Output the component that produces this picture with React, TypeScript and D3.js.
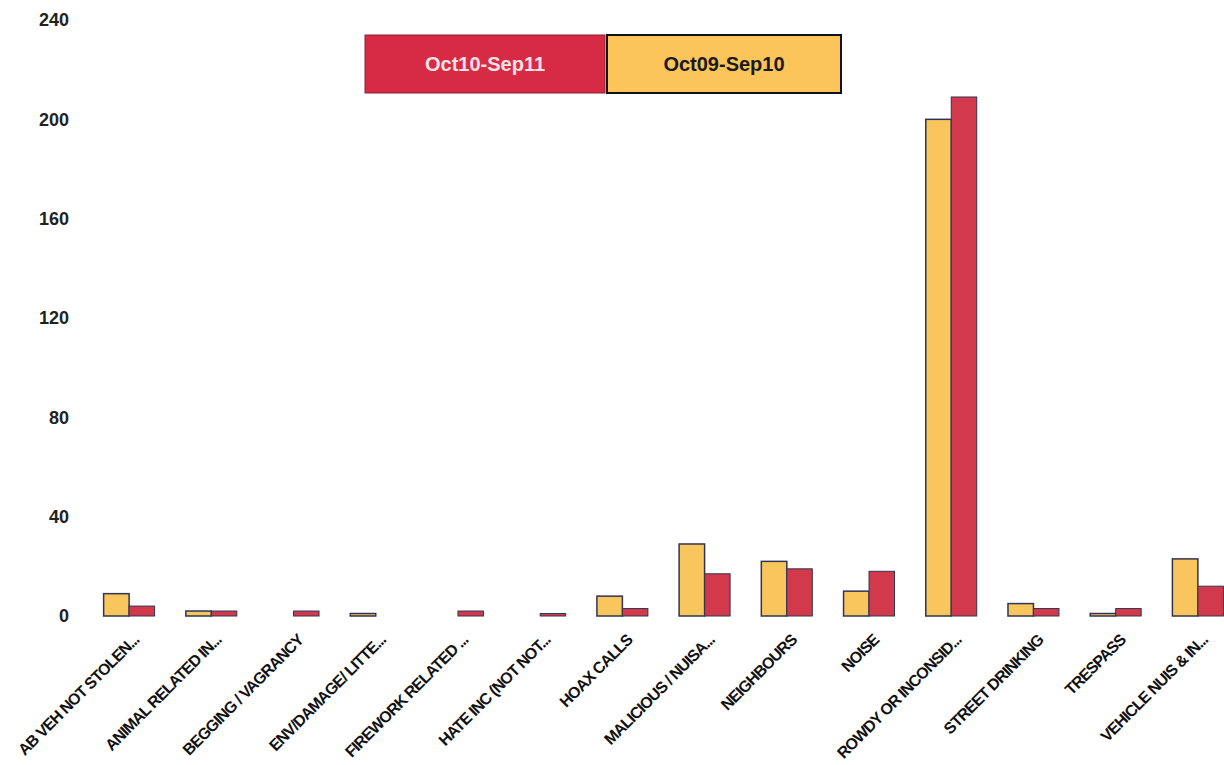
import React from "react";
import * as d3 from "d3";

const categories = [
  "AB VEH NOT STOLEN...",
  "ANIMAL RELATED IN...",
  "BEGGING / VAGRANCY",
  "ENV/DAMAGE/ LITTE...",
  "FIREWORK RELATED ...",
  "HATE INC (NOT NOT...",
  "HOAX CALLS",
  "MALICIOUS / NUISA...",
  "NEIGHBOURS",
  "NOISE",
  "ROWDY OR INCONSID...",
  "STREET DRINKING",
  "TRESPASS",
  "VEHICLE NUIS & IN...",
];
const series09 = [9, 2, 0, 1, 0, 0, 8, 29, 22, 10, 200, 5, 1, 23];
const series10 = [4, 2, 2, 0, 2, 1, 3, 17, 19, 18, 209, 3, 3, 12];
const seriesNames = ["Oct09-Sep10", "Oct10-Sep11"];
const yTicks = [0, 40, 80, 120, 160, 200, 240];

const W = 1224;
const H = 765;

export default function App() {
  const x = d3
    .scaleBand<string>()
    .domain(categories)
    .range([88, 1239])
    .paddingInner(0.38)
    .paddingOuter(0.19);
  const x1 = d3.scaleBand<string>().domain(seriesNames).range([0, x.bandwidth()]);
  const y = d3.scaleLinear().domain([0, 240]).range([616, 20]);

  const yellow = "#F9C65E";
  const red = "#D23A4C";
  const outline = "#2F3552";

  return (
    <svg
      width={W}
      height={H}
      style={{ position: "absolute", left: 0, top: 0, background: "#fff" }}
      fontFamily="'Liberation Sans', Arial, sans-serif"
    >
      <rect x={0} y={0} width={W} height={H} fill="#fff" />
      {yTicks.map((t) => (
        <text
          key={t}
          x={69}
          y={y(t)}
          dy="0.35em"
          textAnchor="end"
          fontSize={18}
          fontWeight="bold"
          fill="#222"
        >
          {t}
        </text>
      ))}
      {categories.map((c, i) => {
        const x0 = x(c)!;
        const bw = x1.bandwidth();
        const v09 = series09[i];
        const v10 = series10[i];
        return (
          <g key={c}>
            {v09 > 0 && (
              <rect
                x={x0 + x1(seriesNames[0])!}
                y={y(v09)}
                width={bw}
                height={y(0) - y(v09)}
                fill={yellow}
                stroke={outline}
                strokeWidth={1.5}
              />
            )}
            {v10 > 0 && (
              <rect
                x={x0 + x1(seriesNames[1])!}
                y={y(v10)}
                width={bw}
                height={y(0) - y(v10)}
                fill={red}
                stroke={outline}
                strokeWidth={1}
              />
            )}
          </g>
        );
      })}
      {categories.map((c) => {
        const cx = x(c)! + x.bandwidth() / 2 + 11;
        return (
          <text
            key={c}
            transform={`translate(${cx},${641}) rotate(-45)`}
            textAnchor="end"
            fontSize={16}
            fontWeight="bold"
            letterSpacing={-0.9}
            fill="#111"
          >
            {c}
          </text>
        );
      })}
      <g>
        <rect x={365} y={35} width={240} height={58} fill="#D72B45" stroke="#8a2030" strokeWidth={1} />
        <text x={485} y={64} dy="0.35em" textAnchor="middle" fontSize={20} fontWeight="bold" fill="#F6E3E6">
          {seriesNames[1]}
        </text>
        <rect x={607} y={35} width={234} height={58} fill="#FBC55A" stroke="#111" strokeWidth={2} />
        <text x={724} y={64} dy="0.35em" textAnchor="middle" fontSize={20} fontWeight="bold" fill="#1a1a1a">
          {seriesNames[0]}
        </text>
      </g>
    </svg>
  );
}
